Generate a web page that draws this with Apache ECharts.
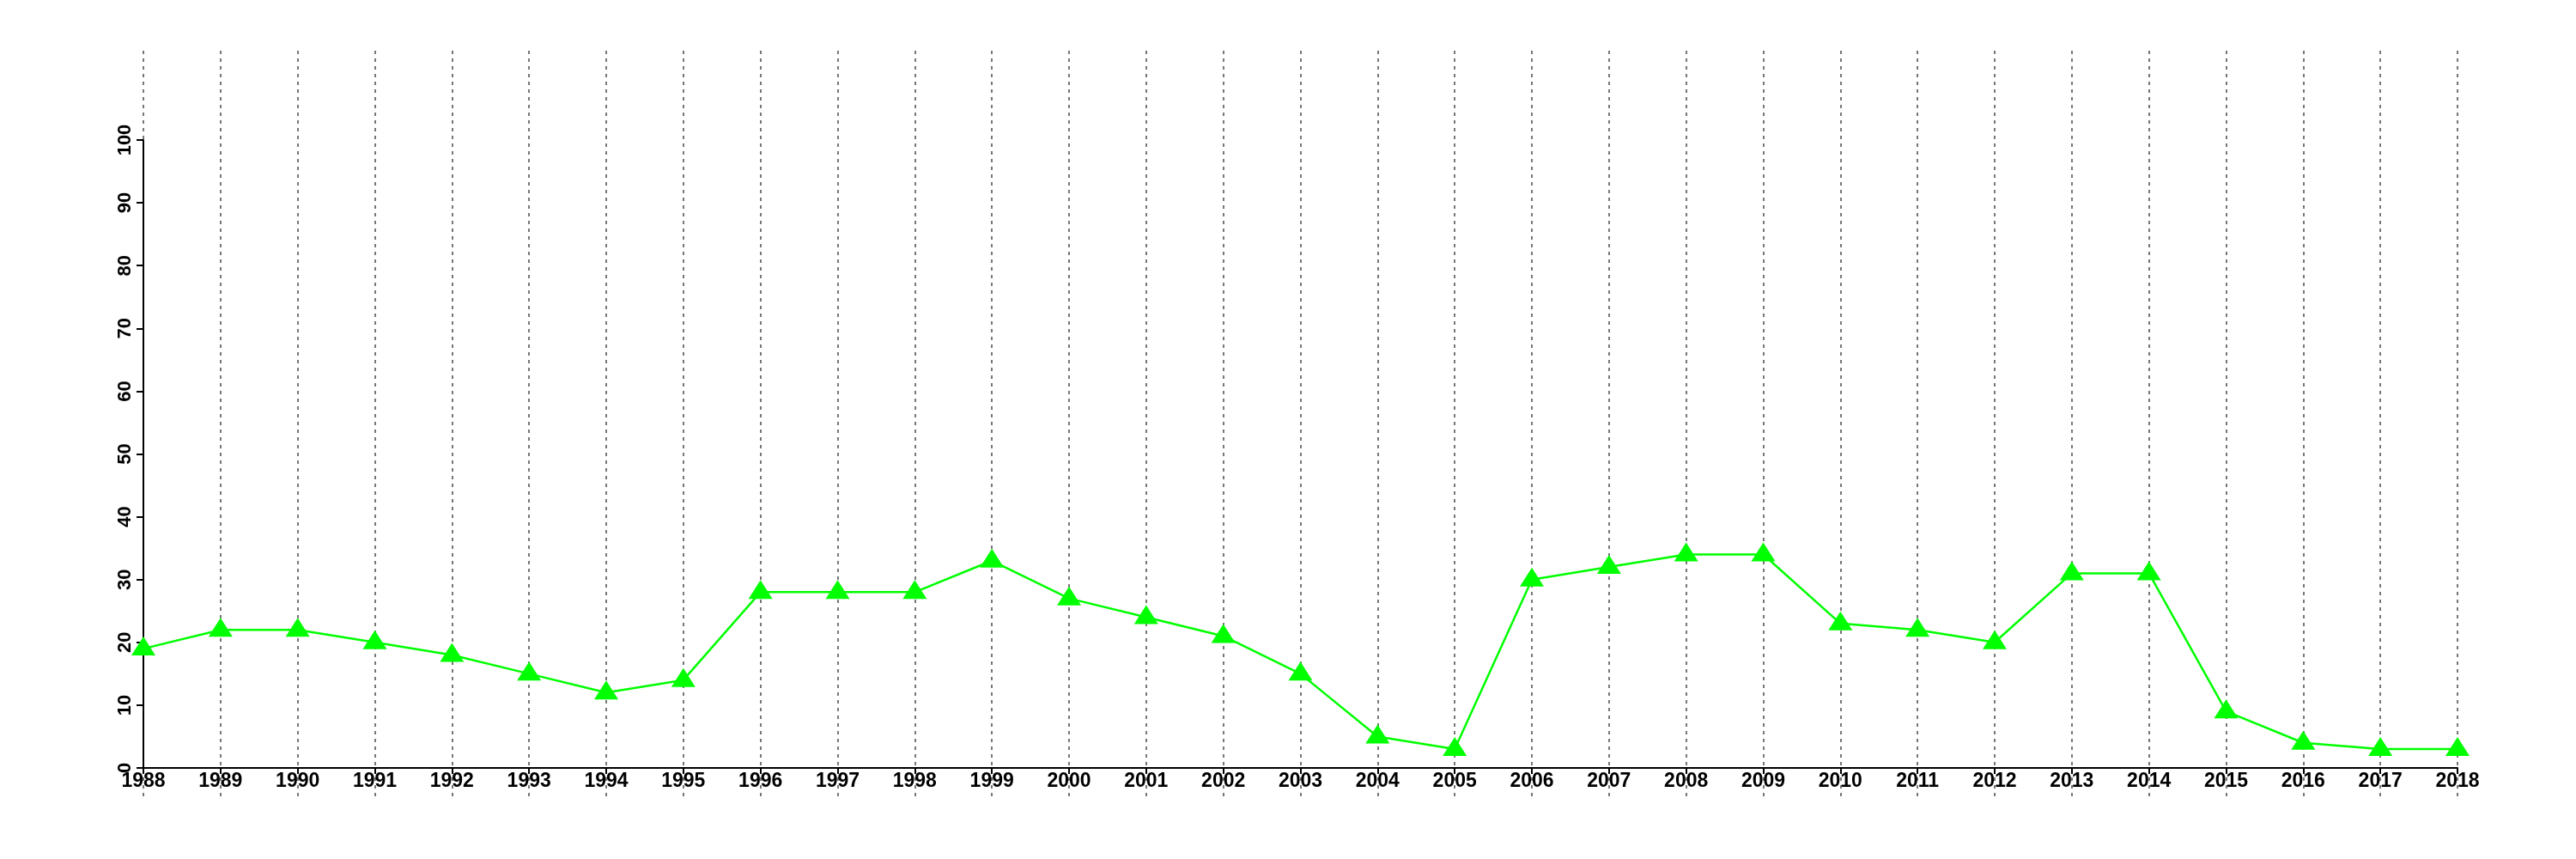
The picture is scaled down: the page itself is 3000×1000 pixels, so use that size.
<!DOCTYPE html>
<html>
<head>
<meta charset="utf-8">
<script src="https://cdn.jsdelivr.net/npm/echarts@6/dist/echarts.min.js"></script>
<style>html,body{margin:0;padding:0;background:#fff}#c{width:3000px;height:1000px}</style>
</head>
<body>
<div id="c"></div>
<script>
const years = ['1988','1989','1990','1991','1992','1993','1994','1995','1996','1997','1998','1999','2000','2001','2002','2003','2004','2005','2006','2007','2008','2009','2010','2011','2012','2013','2014','2015','2016','2017','2018'];
const values = [19,22,22,20,18,15,12,14,28,28,28,33,27,24,21,15,5,3,30,32,34,34,23,22,20,31,31,9,4,3,3];
const yMin = 0, yMax = 100, yStep = 10;

const font = 'Liberation Sans, Arial, Helvetica, sans-serif';
const chart = echarts.init(document.getElementById('c'), null, {renderer: 'canvas'});
chart.setOption({
  backgroundColor: '#ffffff',
  animation: false,
  grid: [
    {left: 167, right: 138, top: 163, bottom: 106, containLabel: false},
    {left: 167, right: 138, top: 59, bottom: 73, containLabel: false}
  ],
  xAxis: [
    {
      gridIndex: 0, type: 'category', data: years, boundaryGap: false,
      axisLine: {show: true, lineStyle: {color: '#000', width: 2}},
      axisTick: {show: true, length: 7, lineStyle: {color: '#000', width: 2}},
      axisLabel: {show: true, interval: 0, margin: 4, color: '#000', fontSize: 23, fontWeight: 'bold', fontFamily: font},
      splitLine: {show: false}
    },
    {
      gridIndex: 1, type: 'category', data: years, boundaryGap: false,
      axisLine: {show: false}, axisTick: {show: false}, axisLabel: {show: false},
      splitLine: {show: true, interval: 0, lineStyle: {color: '#777', width: 2, type: [4, 5]}}
    }
  ],
  yAxis: [
    {
      gridIndex: 0, type: 'value', min: yMin, max: yMax, interval: yStep,
      axisLine: {show: true, lineStyle: {color: '#000', width: 2}},
      axisTick: {show: true, length: 8, lineStyle: {color: '#000', width: 2}},
      axisLabel: {show: true, rotate: 90, margin: 10, color: '#000', fontSize: 22, fontWeight: 'bold', fontFamily: font},
      splitLine: {show: false}
    },
    {
      gridIndex: 1, type: 'value', min: 0, max: 1, show: false, splitLine: {show: false}
    }
  ],
  series: [{
    type: 'line', xAxisIndex: 0, yAxisIndex: 0, data: values,
    lineStyle: {color: '#00ff00', width: 2.5},
    itemStyle: {color: '#00ff00'},
    symbol: 'triangle', symbolSize: [28, 22], symbolOffset: [0, -3],
    z: 5
  }]
});
</script>
</body>
</html>
